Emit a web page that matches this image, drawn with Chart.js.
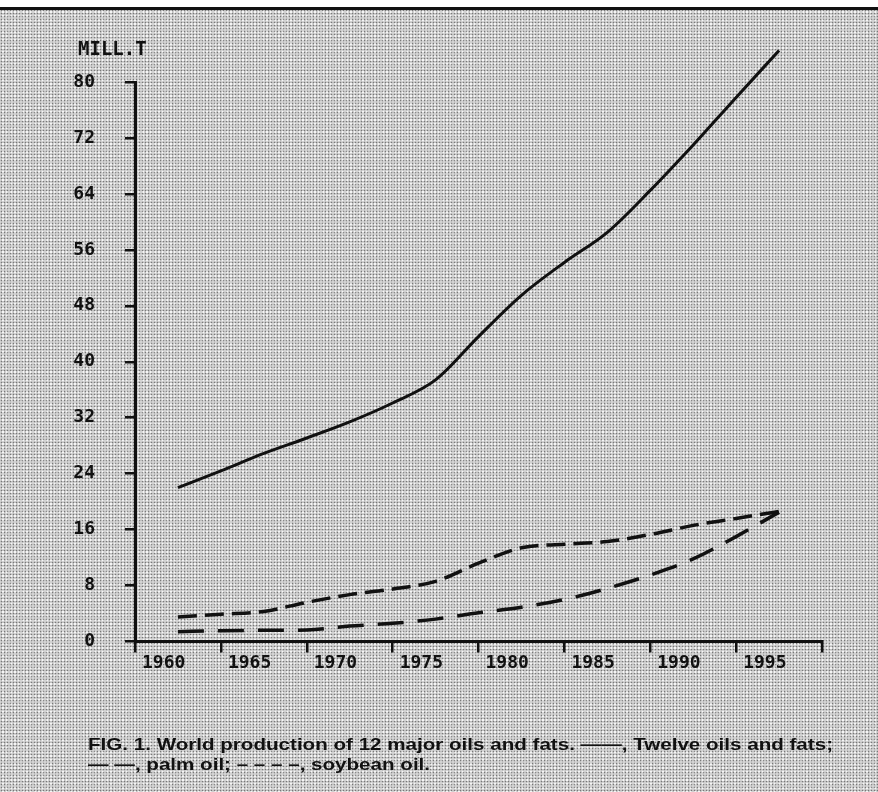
<!DOCTYPE html>
<html>
<head>
<meta charset="utf-8">
<script src="https://cdn.jsdelivr.net/npm/chart.js@4/dist/chart.umd.min.js"></script>
<style>
  html, body { margin: 0; padding: 0; }
  #page {
    position: relative; width: 878px; height: 792px; overflow: hidden;
    background-color: #d3d3d3;
    background-image:
      radial-gradient(rgba(30,30,30,0.5) 0.7px, transparent 1.1px),
      radial-gradient(rgba(255,255,255,0.8) 0.8px, transparent 1.2px);
    background-size: 3px 3px, 4px 4px;
    background-position: 0 0, 1px 2px;
  }
  #topband { position: absolute; left: 0; top: 0; width: 878px; height: 7px; background: #fff; border-bottom: 3px solid #111; }
  #chart { position: absolute; left: 0; top: 0; }
  #caption {
    position: absolute; left: 88px; top: 735px; white-space: nowrap;
    font: bold 17px "Liberation Sans", Arial, sans-serif; line-height: 20px; color: #111;
    transform-origin: 0 0;
  }
</style>
</head>
<body>
<div id="page">
  <div id="topband"></div>
  <canvas id="chart" width="878" height="792"></canvas>
  <div id="caption">
    <div id="cap1">FIG. 1. World production of 12 major oils and fats. ——, Twelve oils and fats;</div>
    <div>— —, palm oil; – – – –, soybean oil.</div>
  </div>
</div>
<script>
// World production, million tonnes
const totalYears  = [1960, 1962.5, 1965, 1967.5, 1970, 1972.5, 1975, 1977.5, 1980, 1982.5, 1985, 1987.5, 1990, 1992.5, 1995];
const totalValues = [22.0, 24.4, 26.9, 29.1, 31.4, 34.1, 37.4, 43.6, 49.5, 54.2, 58.5, 64.5, 71.0, 77.8, 84.5];

const soyYears  = [1960, 1962.5, 1965, 1967.5, 1970, 1972.5, 1975, 1977.5, 1980, 1982.5, 1985, 1987.5, 1990, 1992.5, 1995];
const soyValues = [3.5, 3.9, 4.3, 5.6, 6.7, 7.5, 8.6, 11.2, 13.4, 13.9, 14.3, 15.3, 16.6, 17.6, 18.6];

const palmYears  = [1960, 1962.5, 1965, 1967.5, 1970, 1972.5, 1975, 1977.5, 1980, 1982.5, 1985, 1987.5, 1990, 1992.5, 1995];
const palmValues = [1.4, 1.55, 1.6, 1.65, 2.2, 2.6, 3.2, 4.1, 4.9, 6.0, 7.6, 9.5, 11.8, 15.0, 18.5];

const xTickLabels = ['1960', '1965', '1970', '1975', '1980', '1985', '1990', '1995'];
const xTickEdges  = [1957.5, 1962.5, 1967.5, 1972.5, 1977.5, 1982.5, 1987.5, 1992.5, 1997.5];
const yTickStep = 8;
const yMax = 80;

const toPoints = (xs, ys) => xs.map((x, i) => ({ x, y: ys[i] }));

const INK = '#111111';
const MONO = '"DejaVu Sans Mono", "Liberation Mono", monospace';

// "MILL.T" unit label above the value axis
const unitLabel = {
  id: 'unitLabel',
  afterDraw(chart) {
    const { ctx, chartArea } = chart;
    ctx.save();
    ctx.font = 'bold 19px ' + MONO;
    ctx.fillStyle = INK;
    ctx.textAlign = 'left';
    ctx.textBaseline = 'middle';
    ctx.fillText('MILL.T', 78, chartArea.top - 32);
    ctx.restore();
  }
};

Chart.defaults.color = INK;

const lineStyle = { borderColor: INK, pointRadius: 0, tension: 0.3, cubicInterpolationMode: 'monotone', fill: false, clip: false };

new Chart(document.getElementById('chart'), {
  type: 'line',
  data: {
    datasets: [
      { ...lineStyle, label: 'Twelve oils and fats', data: toPoints(totalYears, totalValues), borderWidth: 3 },
      { ...lineStyle, label: 'palm oil', data: toPoints(palmYears, palmValues), borderWidth: 3.5, borderDash: [26, 14] },
      { ...lineStyle, label: 'soybean oil', data: toPoints(soyYears, soyValues), borderWidth: 3.5, borderDash: [19, 8] }
    ]
  },
  options: {
    responsive: false,
    animation: false,
    devicePixelRatio: 1,
    layout: { padding: { left: 0, top: 82, right: 56, bottom: 0 } },
    plugins: { legend: { display: false }, tooltip: { enabled: false }, title: { display: false } },
    scales: {
      x: {
        type: 'linear',
        min: xTickEdges[0],
        max: xTickEdges[xTickEdges.length - 1],
        afterBuildTicks(scale) { scale.ticks = xTickEdges.map(v => ({ value: v })); },
        afterFit(scale) { scale.height = 150.5; },
        border: { display: true, color: INK, width: 3 },
        grid: { drawOnChartArea: false, drawTicks: true, tickLength: 11, color: INK, lineWidth: 2.5 },
        ticks: {
          autoSkip: false, maxRotation: 0, align: 'start', labelOffset: 7, padding: 0,
          font: { family: MONO, size: 18, weight: 'bold' }, color: INK,
          callback: (value, index) => xTickLabels[index] || ''
        }
      },
      y: {
        min: 0,
        max: yMax,
        afterFit(scale) { scale.width = 135; },
        border: { display: true, color: INK, width: 3 },
        grid: { drawOnChartArea: false, drawTicks: true, tickLength: 10, color: INK, lineWidth: 2.5 },
        ticks: {
          stepSize: yTickStep, padding: 30,
          font: { family: MONO, size: 18, weight: 'bold' }, color: INK
        }
      }
    }
  },
  plugins: [unitLabel]
});

// fit the first caption line to its column width
const cap = document.getElementById('caption');
const w = document.getElementById('cap1').getBoundingClientRect().width;
cap.style.transform = 'scaleX(' + (745 / w).toFixed(4) + ')';
</script>
</body>
</html>
